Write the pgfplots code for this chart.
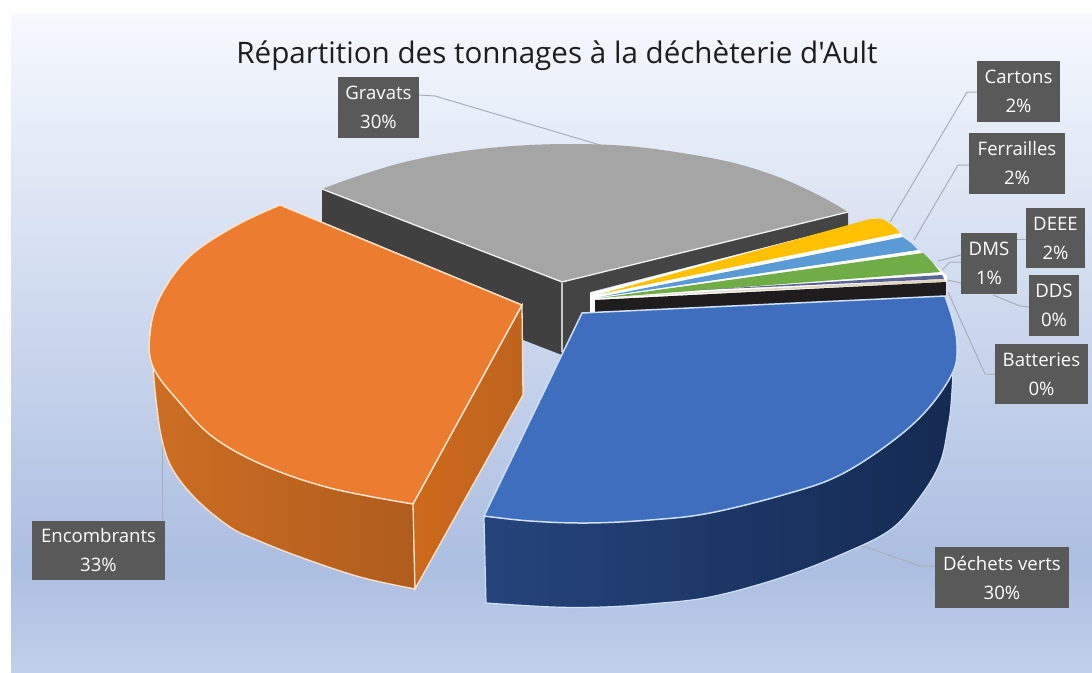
\documentclass[border=0pt]{standalone}
\usepackage{pgfplots}
\pgfplotsset{compat=1.18}
\usepackage{fontspec}
\setmainfont{Open Sans}
\newfontfamily\titlefont{Open Sans}
\definecolor{boxc}{HTML}{595959}
\definecolor{leader}{HTML}{A9AFBA}
\definecolor{orangeedge}{HTML}{FFE3C8}
\definecolor{blueedge}{HTML}{CFE0F5}
\newcommand\lab[8]{%
  \addplot[fill=boxc,draw=none] coordinates {(#1,#2) (#3,#2) (#3,#4) (#1,#4)} --cycle;
  \node[text=white,align=center,font=\fontsize{18.6}{29}\selectfont,inner sep=0pt] at (axis cs:#5,#6) {#7\\#8};
}
\begin{document}
\begin{tikzpicture}
\begin{axis}[
  width=1092pt,height=672pt,scale only axis,
  xmin=0,xmax=1092,ymin=0,ymax=672,y dir=reverse,
  hide axis,no markers,clip=true]
% background
\addplot[fill=white,draw=none] coordinates {(0,0) (1092,0) (1092,672) (0,672)} --cycle;
\addplot[draw=none,top color={rgb,255:red,246;green,249;blue,254},bottom color={rgb,255:red,172;green,190;blue,225}] coordinates {(11,14) (1092,14) (1092,565) (11,565)} --cycle;
\addplot[draw=none,top color={rgb,255:red,172;green,190;blue,225},bottom color={rgb,255:red,192;green,208;blue,235}] coordinates {(11,564) (1092,564) (1092,672) (11,672)} --cycle;
% leader lines
\addplot[leader,line width=1pt] coordinates {(419,95) (435,96) (600,145)};
\addplot[leader,line width=1pt] coordinates {(977,92) (967,92) (890,222)};
\addplot[leader,line width=1pt] coordinates {(969,165) (958,165) (914,240)};
\addplot[leader,line width=1pt] coordinates {(1026,239) (1010,239)};
\addplot[leader,line width=1pt] coordinates {(961,255) (938,261)};
\addplot[leader,line width=1pt] coordinates {(961,262) (950,262) (942,270)};
\addplot[leader,line width=1pt] coordinates {(1030,307) (1020,306) (993,295)};
\addplot[leader,line width=1pt] coordinates {(947,280) (961,283)};
\addplot[leader,line width=1pt] coordinates {(995,374) (985,374) (948,292)};
\addplot[leader,line width=1pt] coordinates {(162,521) (162,430)};
\addplot[leader,line width=1pt] coordinates {(936,566) (920,566) (860,545)};
% gravats walls
\addplot[fill={rgb,255:red,64;green,64;blue,64},draw=none] coordinates {(322,189) (562,282) (562,355) (322,262)} --cycle;
\addplot[fill={rgb,255:red,68;green,68;blue,68},draw=none] coordinates {(562,282) (848,212) (848,226) (590,292) (590,330) (562,355)} --cycle;
\addplot[draw={rgb,255:red,200;green,200;blue,200},line width=1.4pt] coordinates {(562,283) (562,352)};
% gravats top
\addplot[smooth,tension=0.6,fill={rgb,255:red,165;green,165;blue,165},draw=none] coordinates {(322,189) (358,176) (405,162) (457,152) (513,146) (570,144) (627,146) (682,153) (734,163) (781,178) (822,197) (848,212)} -- (axis cs:562,282) -- cycle;
\addplot[draw=white!90!gray,line width=1.3pt] coordinates {(322,189) (562,282) (848,212)};
% white block behind small slices
\addplot[fill=white,draw=none] coordinates {(590,293) (848,226) (875,218) (900,233) (947,276) (947,296) (595,312) (590,312)} --cycle;
% cartons
\addplot[smooth,tension=0.5,fill={rgb,255:red,255;green,192;blue,0},draw=none] coordinates {(870,219) (882,219) (893,226) (900,233)} -- (axis cs:600,294) -- cycle;
% ferrailles
\addplot[fill={rgb,255:red,91;green,155;blue,213},draw=none] coordinates {(600,297) (903,237) (911,243) (918,250)} --cycle;
% deee
\addplot[fill={rgb,255:red,112;green,173;blue,71},draw=none] coordinates {(600,298) (923,253) (932,262) (940,272)} --cycle;
% dms, dds
\addplot[fill={rgb,255:red,90;green,100;blue,150},draw=none] coordinates {(700,290) (942,275) (944,279)} --cycle;
\addplot[fill={rgb,255:red,225;green,215;blue,195},draw=none] coordinates {(595,298) (944,279) (946,282)} --cycle;
% batteries
\addplot[fill={rgb,255:red,30;green,28;blue,28},draw=none] coordinates {(595,300) (946,282) (946,297) (595,312)} --cycle;
% encombrants walls
\addplot[smooth,tension=0.6,draw=orangeedge,line width=1.3pt,left color={rgb,255:red,205;green,110;blue,35},right color={rgb,255:red,175;green,92;blue,30}] coordinates {(153,367) (156,400) (162,440) (173,470) (197,500) (230,527) (257,540) (300,557) (360,577) (415,589)} -- (axis cs:413,480) -- (axis cs:200,380) -- cycle;
\addplot[draw=orangeedge,line width=1.3pt,left color={rgb,255:red,205;green,105;blue,28},right color={rgb,255:red,190;green,100;blue,30}] coordinates {(413,504) (522,305) (523,395) (415,589)} --cycle;
\addplot[smooth,tension=0.6,fill={rgb,255:red,235;green,124;blue,48},draw=orangeedge,line width=1.5pt] coordinates {(280,205) (235,226) (189,257) (160,297) (150,333) (153,367) (180,403) (213,437) (263,465) (330,488) (413,504)} -- (axis cs:522,305) -- cycle;
% dechets verts wall
\addplot[smooth,tension=0.6,draw=blueedge,line width=1.2pt,left color={rgb,255:red,38;green,68;blue,124},right color={rgb,255:red,20;green,42;blue,82}] coordinates {(953,372) (951,405) (948,427) (940,463) (920,497) (890,530) (840,555) (780,578) (710,597) (650,604) (603,607) (553,607) (486,603)} -- (axis cs:484,517) -- (axis cs:587,490) -- (axis cs:850,440) -- cycle;
% dechets verts top
\addplot[smooth,tension=0.6,fill={rgb,255:red,64;green,110;blue,190},draw=blueedge,line width=1.5pt] coordinates {(945,296) (953,321) (957,345) (953,372) (927,410) (890,443) (840,475) (790,493) (710,513) (650,520) (587,523) (530,521) (484,516)} -- (axis cs:582,313) -- cycle;
% labels
\lab{338}{77}{419}{138}{378.5}{107.5}{Gravats}{30\%}
\lab{32}{521}{165}{580}{98.5}{550.5}{Encombrants}{33\%}
\lab{935}{547}{1069}{608}{1002}{577.5}{Déchets verts}{30\%}
\lab{977}{61}{1060}{122}{1018.5}{91.5}{Cartons}{2\%}
\lab{969}{133}{1065}{194}{1017}{163.5}{Ferrailles}{2\%}
\lab{1026}{208}{1085}{268}{1055.5}{238}{DEEE}{2\%}
\lab{961}{233}{1017}{294}{989}{263.5}{DMS}{1\%}
\lab{1029}{275}{1079}{336}{1054}{305.5}{DDS}{0\%}
\lab{995}{344}{1088}{404}{1041.5}{374}{Batteries}{0\%}
\node[text={rgb,255:red,30;green,30;blue,30},font=\titlefont\fontsize{29.6}{34}\selectfont,inner sep=0pt] at (axis cs:557,56) {Répartition des tonnages à la déchèterie d'Ault};
\end{axis}
\end{tikzpicture}
\end{document}
